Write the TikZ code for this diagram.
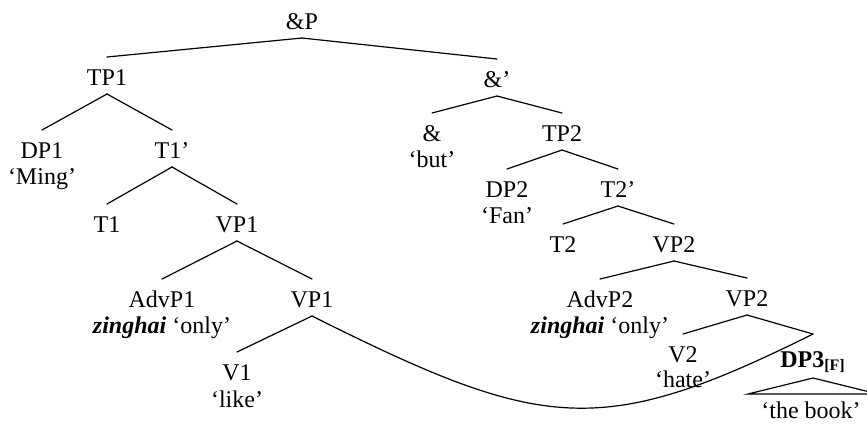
\documentclass[tikz,border=0pt]{standalone}
\usepackage{fontspec}
\setmainfont{Liberation Serif}
\usetikzlibrary{calc}
\begin{document}
\begin{tikzpicture}[x=0.5pt,y=-0.5pt,
  lab/.style={anchor=base,inner sep=0pt,outer sep=0pt,
    text height=14pt,text depth=4.5pt,font=\fontsize{12}{14}\selectfont},
  gloss/.style={anchor=base,inner sep=0pt,font=\fontsize{12}{14}\selectfont},
  branch/.style={line width=0.6pt,line cap=round}]
\clip (0,0) rectangle (867,425);

% left conjunct
\node[lab] (andP)   at (302,29)  {\&P};
\node[lab] (TPa)    at (107,85)  {TP1};
\node[lab] (DPa)    at (42,158)  {DP1};
\node[gloss] (DPag) at (42,184)  {‘Ming’};
\node[lab] (Tbara)  at (172,158) {T1’};
\node[lab] (Ta)     at (107,232) {T1};
\node[lab] (VPa)    at (237,232) {VP1};
\node[lab] (AdvPa)  at (162,307) {AdvP1};
\node[gloss] (AdvPag) at (162,333) {\textbf{\textit{zinghai}} ‘only’};
\node[lab] (VPab)   at (312,307) {VP1};
\node[lab] (Va)     at (237,380) {V1};
\node[gloss] (Vag)  at (237,407) {‘like’};

% right conjunct
\node[lab] (andbar) at (497,87)  {\&’};
\node[lab] (conj)   at (432,141) {\&};
\node[gloss] (conjg) at (432,167) {‘but’};
\node[lab] (TPb)    at (562,141) {TP2};
\node[lab] (DPb)    at (507,197) {DP2};
\node[gloss] (DPbg) at (507,223) {‘Fan’};
\node[lab] (Tbarb)  at (618,197) {T2’};
\node[lab] (Tb)     at (563,252) {T2};
\node[lab] (VPb)    at (674,252) {VP2};
\node[lab] (AdvPb)  at (600,307) {AdvP2};
\node[gloss] (AdvPbg) at (600,333) {\textbf{\textit{zinghai}} ‘only’};
\node[lab] (VPbb)   at (747,306) {VP2};
\node[lab] (Vb)     at (683,362) {V2};
\node[gloss] (Vbg)  at (683,387) {‘hate’};
\node[lab] (DPc)    at (813,362) {\raisebox{-2.5pt}{\textbf{DP3}\textsubscript{\textbf{[F]}}}};
\node[gloss] (DPcg) at (811,418) {‘the book’};

% branches
\foreach \p/\c in {andP/TPa, andP/andbar, TPa/DPa, TPa/Tbara, Tbara/Ta,
    Tbara/VPa, VPa/AdvPa, VPa/VPab, VPab/Va, andbar/conj, andbar/TPb,
    TPb/DPb, TPb/Tbarb, Tbarb/Tb, Tbarb/VPb, VPb/AdvPb, VPb/VPbb,
    VPbb/Vb, VPbb/DPc}
  \draw[branch] (\p.south) -- (\c.north);

% movement curve
\draw[branch] (VPab.south) .. controls (542,431) and (600,440) .. (DPc.north);

% roof over the object
\draw[branch] ($(DPc.south)+(0,7)$) -- ++(-65,16) -- ++(130,0) -- cycle;
\end{tikzpicture}
\end{document}
